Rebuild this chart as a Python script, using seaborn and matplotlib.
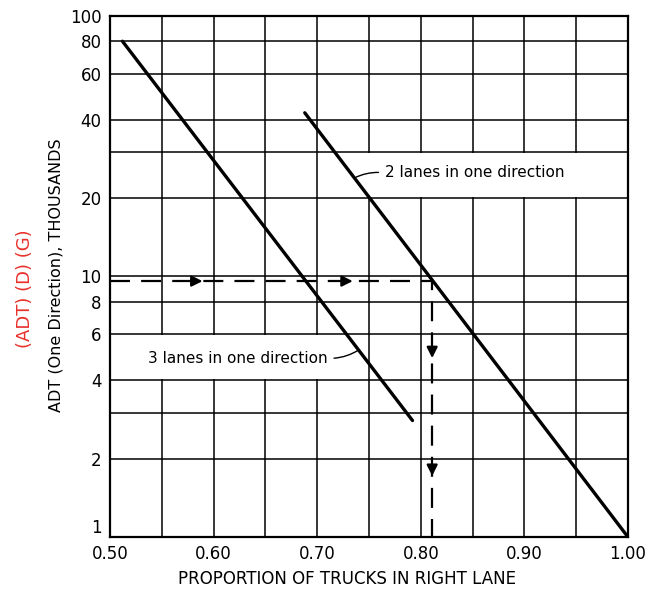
import numpy as np
import pandas as pd
import matplotlib
matplotlib.use("Agg")
import matplotlib.pyplot as plt
import seaborn as sns

# lines (proportion of trucks in right lane vs ADT, thousands)
three_x = [0.512, 0.792]
three_y = [80, 2.8]
two_x = [0.688, 1.00]
two_y = [42.5, 1.0]

# worked example (dashed)
ex_x = [0.50, 0.811, 0.811]
ex_y = [9.6, 9.6, 1.0]
arrows_right = [0.58, 0.725]
arrows_down = [5.1, 1.8]

yticks = [1, 2, 4, 6, 8, 10, 20, 40, 60, 80, 100]
yminor = [3, 30]
xticks = [0.50, 0.60, 0.70, 0.80, 0.90, 1.00]
xminor = [0.55, 0.65, 0.75, 0.85, 0.95]

# label strips where the grid is left blank (x0, x1, y0, y1)
blank_bands = [(0.735, 1.0, 20, 30), (0.5, 0.745, 4, 6)]

df = pd.DataFrame({
    "x": three_x + two_x,
    "y": three_y + two_y,
    "lanes": ["3"] * 2 + ["2"] * 2,
})

sns.set_style("white")
plt.rcParams["font.family"] = ["DejaVu Sans"]
plt.rcParams["text.color"] = "black"
plt.rcParams["axes.labelcolor"] = "black"
plt.rcParams["xtick.color"] = "black"
plt.rcParams["ytick.color"] = "black"

fig = plt.figure(figsize=(6.64, 5.92), dpi=100)
ax = fig.add_axes([0.1657, 0.0929, 0.78, 0.8801])
ax.set_axisbelow(True)

sns.lineplot(data=df, x="x", y="y", units="lanes", estimator=None,
             color="black", linewidth=2.4, ax=ax, legend=False, zorder=3)
ax.plot(ex_x, ex_y, color="black", linewidth=1.6, dashes=(9, 5), zorder=3)

for x0, x1, y0, y1 in blank_bands:
    ax.add_patch(plt.Rectangle((x0, y0 * 1.01), x1 - x0, y1 * 0.99 - y0 * 1.01,
                               facecolor="white", edgecolor="none", zorder=1))

for xa in arrows_right:
    ax.annotate("", xy=(xa + 0.012, ex_y[0]), xytext=(xa - 0.005, ex_y[0]),
                arrowprops=dict(arrowstyle="-|>", color="black", lw=1.6,
                                mutation_scale=16), zorder=4)
for ya in arrows_down:
    ax.annotate("", xy=(ex_x[1], ya * 0.93), xytext=(ex_x[1], ya * 1.04),
                arrowprops=dict(arrowstyle="-|>", color="black", lw=1.6,
                                mutation_scale=16), zorder=4)

ax.set_yscale("log")
ax.set_xlim(0.5, 1.0)
ax.set_ylim(1, 100)
ax.set_yticks(yticks)
ax.set_yticklabels([str(v) for v in yticks])
ax.set_yticks(yminor, minor=True)
ax.set_xticks(xticks)
ax.set_xticklabels([f"{v:.2f}" for v in xticks])
ax.set_xticks(xminor, minor=True)
ax.tick_params(axis="both", which="both", length=0, labelsize=12, pad=6,
               labelcolor="black")
ax.yaxis.set_minor_formatter(matplotlib.ticker.NullFormatter())
ax.get_yticklabels()[0].set_verticalalignment("bottom")
ax.grid(True, which="both", color="black", linewidth=1.1)
for s in ax.spines.values():
    s.set_color("black")
    s.set_linewidth(1.6)

ax.set_xlabel("PROPORTION OF TRUCKS IN RIGHT LANE", fontsize=12, color="black")
ax.xaxis.set_label_coords(0.457, -0.064)
ax.set_ylabel("ADT (One Direction), THOUSANDS", fontsize=11.5, color="black")
ax.yaxis.set_label_coords(-0.09, 0.503)
fig.text(0.038, 1 - 289 / 592, "(ADT) (D) (G)", rotation=90, color="#e8302a",
         fontsize=13, ha="center", va="center")

ax.annotate("2 lanes in one direction", xy=(0.736, 23.9), xytext=(0.765, 25),
            fontsize=11, va="center", color="black",
            arrowprops=dict(arrowstyle="-", color="black", lw=1,
                            shrinkA=2, shrinkB=0, relpos=(0, 0.5),
                            connectionstyle="arc3,rad=0.15"))
ax.annotate("3 lanes in one direction", xy=(0.740, 5.22), xytext=(0.537, 4.85),
            fontsize=11, va="center", color="black",
            arrowprops=dict(arrowstyle="-", color="black", lw=1,
                            shrinkA=2, shrinkB=0, relpos=(1, 0.5),
                            connectionstyle="arc3,rad=0.15"))

fig.savefig("out.png", dpi=100)
